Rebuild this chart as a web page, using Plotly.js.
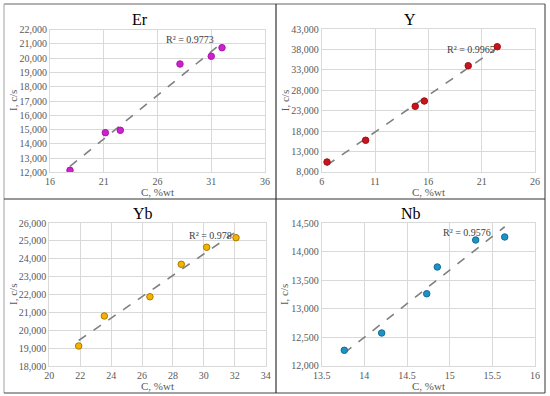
<!DOCTYPE html>
<html>
<head>
<meta charset="utf-8">
<script src="https://cdn.plot.ly/plotly-3.0.1.min.js"></script>
<style>html,body{margin:0;padding:0;background:#fff;}#chart{width:550px;height:396px;}</style>
</head>
<body>
<div id="chart"></div>
<script>
// ---- data ----
const panelNames = ["Er", "Y", "Yb", "Nb"];
const erC = [17.86, 21.15, 22.54, 28.09, 31.0, 32.0];
const erI = [12140, 14780, 14945, 19595, 20135, 20740];
const yC = [6.5, 10.12, 14.77, 15.62, 19.74, 22.46];
const yI = [10380, 15720, 24070, 25380, 34050, 38720];
const ybC = [21.9, 23.56, 26.51, 28.54, 30.18, 32.08];
const ybI = [19135, 20810, 21885, 23695, 24645, 25180];
const nbC = [13.765, 14.203, 14.731, 14.855, 15.305, 15.645];
const nbI = [12270, 12573, 13261, 13729, 14202, 14255];
const r2Labels = ["R² = 0.9773", "R² = 0.9965", "R² = 0.978", "R² = 0.9576"];
const xTitle = "C, %wt";
const yTitle = "I, c/s";

const series = [[erC, erI], [yC, yI], [ybC, ybI], [nbC, nbI]];
const fills = ["#CC22CC", "#C8141E", "#F2B400", "#1E92C4"];
const outlines = ["#B010B0", "#A01010", "#B07800", "#136E98"];

const xRanges = [[16, 36], [6, 26], [20, 34], [13.5, 16]];
const xDticks = [5, 5, 2, 0.5];
const yRanges = [[12000, 22000], [8000, 43000], [18000, 26000], [12000, 14500]];
const yDticks = [1000, 5000, 1000, 500];

// plot areas in px: [left, right, top, bottom]
const boxes = [[50, 265, 29.7, 172.3], [321.7, 535, 29.3, 171.7], [49.3, 265.7, 223, 366.3], [321.7, 535, 223, 365.7]];
const titlePos = [[140, 20], [410, 20], [143, 213], [411, 213]];
const r2Pos = [[0.651, 0.928], [0.70, 0.86], [0.743, 0.911], [0.679, 0.93]];

function fit(xs, ys) {
  const n = xs.length;
  let sx = 0, sy = 0, sxx = 0, sxy = 0;
  for (let i = 0; i < n; i++) { sx += xs[i]; sy += ys[i]; sxx += xs[i]*xs[i]; sxy += xs[i]*ys[i]; }
  const b = (n*sxy - sx*sy) / (n*sxx - sx*sx);
  const a = (sy - b*sx) / n;
  const x0 = Math.min(...xs), x1 = Math.max(...xs);
  return {x: [x0, x1], y: [a + b*x0, a + b*x1]};
}
function px(xp) { return xp / 550; }
function py(yp) { return 1 - yp / 396; }

const serif = "Liberation Serif";
const traces = [];
const layout = {
  width: 550, height: 396,
  margin: {l: 0, r: 0, t: 0, b: 0},
  paper_bgcolor: "#fff", plot_bgcolor: "#fff",
  showlegend: false,
  font: {family: serif, size: 9, color: "#595959"},
  annotations: [], shapes: []
};

for (let k = 0; k < 4; k++) {
  const sfx = k === 0 ? "" : String(k + 1);
  const xa = "x" + sfx, ya = "y" + sfx;
  const [xs, ys] = series[k];
  const f = fit(xs, ys);
  const [L, R, T, B] = boxes[k];
  traces.push({x: f.x, y: f.y, xaxis: xa, yaxis: ya, mode: "lines", type: "scatter",
    line: {color: "#808080", width: 1.6, dash: "dash"}, hoverinfo: "skip"});
  traces.push({x: xs, y: ys, xaxis: xa, yaxis: ya, mode: "markers", type: "scatter",
    marker: {size: 6.5, color: fills[k], line: {color: outlines[k], width: 1}}});
  layout["xaxis" + sfx] = {
    domain: [px(L), px(R)], anchor: ya, range: xRanges[k], tick0: xRanges[k][0], dtick: xDticks[k],
    showgrid: true, gridcolor: "#d9d9d9", gridwidth: 1, zeroline: false,
    showline: true, linecolor: "#d9d9d9", mirror: true, ticks: "", ticklen: 0,
    tickfont: {family: serif, size: 10, color: "#595959"}, fixedrange: true
  };
  layout["yaxis" + sfx] = {
    domain: [py(B), py(T)], anchor: xa, range: yRanges[k], tick0: yRanges[k][0], dtick: yDticks[k],
    tickformat: ",", showgrid: true, gridcolor: "#d9d9d9", gridwidth: 1, zeroline: false,
    showline: true, linecolor: "#d9d9d9", mirror: true, ticks: "", ticklen: 0,
    tickfont: {family: serif, size: 10, color: "#595959"}, fixedrange: true
  };
  // panel title
  layout.annotations.push({text: panelNames[k], xref: "paper", yref: "paper",
    x: px(titlePos[k][0]), y: py(titlePos[k][1]), xanchor: "center", yanchor: "middle",
    showarrow: false, font: {family: serif, size: 16, color: "#000"}});
  // x title
  layout.annotations.push({text: xTitle, xref: "paper", yref: "paper",
    x: px((L + R) / 2), y: py(B + 20), xanchor: "center", yanchor: "middle",
    showarrow: false, font: {family: serif, size: 11, color: "#595959"}});
  // y title
  layout.annotations.push({text: yTitle, xref: "paper", yref: "paper",
    x: px(L - 37), y: py((T + B) / 2), xanchor: "center", yanchor: "middle", textangle: -90,
    showarrow: false, font: {family: serif, size: 11, color: "#595959"}});
  // R² label
  layout.annotations.push({text: r2Labels[k], xref: xa + " domain", yref: ya + " domain",
    x: r2Pos[k][0], y: r2Pos[k][1], xanchor: "center", yanchor: "middle",
    showarrow: false, font: {family: serif, size: 10, color: "#404040"}});
}

// frame lines
const frame = [
  [4, 4, 545, 4, "#666"], [4, 4, 4, 393, "#b0b0b0"], [545, 4, 545, 393, "#555"],
  [4, 393, 545, 393, "#444"], [276, 4, 276, 393, "#333"], [4, 199, 545, 199, "#333"]
];
for (const [x0, y0, x1, y1, c] of frame) {
  layout.shapes.push({type: "line", xref: "paper", yref: "paper",
    x0: px(x0), y0: py(y0), x1: px(x1), y1: py(y1), line: {color: c, width: 1.2}});
}

Plotly.newPlot("chart", traces, layout, {displayModeBar: false, staticPlot: true});
</script>
</body>
</html>
